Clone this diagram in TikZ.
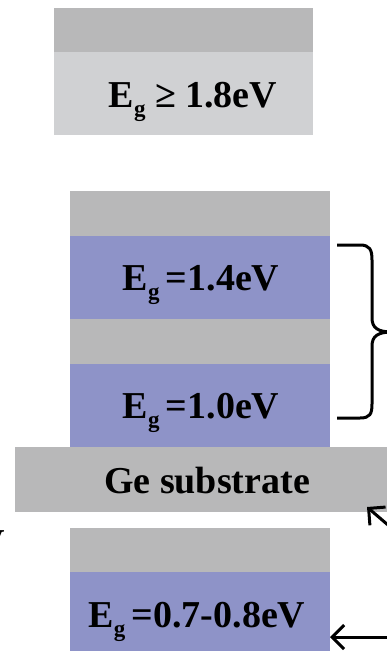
\documentclass[tikz,border=0pt]{standalone}
\usepackage{fontspec}
\setmainfont{Liberation Serif}
\usetikzlibrary{arrows.meta,calc}
\definecolor{layergray}{HTML}{B8B8B9}
\definecolor{layerlight}{HTML}{D0D1D3}
\definecolor{layerblue}{HTML}{8E93C8}
\newcommand{\Egap}{E\raisebox{-9pt}{\fontsize{23}{23}\selectfont\bfseries g}}
\begin{document}
\begin{tikzpicture}[x=1pt,y=-1pt,
  layer/.style={inner sep=0pt,outer sep=0pt,anchor=north west,minimum width=260pt},
  graylayer/.style={layer,fill=layergray,minimum height=45pt},
  lightlayer/.style={layer,fill=layerlight,minimum height=83pt},
  bluelayer/.style={layer,fill=layerblue,minimum height=83pt},
  lbl/.style={inner sep=0pt,anchor=base,font=\fontsize{38}{38}\selectfont\bfseries},
  arr/.style={line width=3pt,-{Straight Barb[length=12pt,width=24pt,line width=3pt]}},
  bracestyle/.style={line width=3pt,line join=round,line cap=butt}
]
\useasboundingbox (0,0) rectangle (387,651);
% top stack
\node[graylayer,minimum width=259pt,minimum height=44pt] (c1) at (54,8) {};
\node[lightlayer,minimum width=259pt] (c1l) at (54,52) {};
\node[lbl] (t1) at (193,107) {\Egap{} ≥ 1.8eV};
% middle stack
\node[graylayer] (c2) at (70,191) {};
\node[bluelayer] (b1) at (70,236) {};
\node[graylayer] (c3) at (70,319) {};
\node[bluelayer,minimum height=83pt] (b2) at (70,364) {};
\node[lbl] (t2) at (201,290) {\Egap\,=1.4eV};
\node[lbl] (t3) at (201,418) {\Egap\,=1.0eV};
% substrate
\node[layer,fill=layergray,minimum width=380pt,minimum height=65pt] (ge) at (15,447) {};
\node[lbl] (t4) at (207,493) {Ge substrate};
% bottom stack
\node[graylayer,minimum height=44pt] (c4) at (70,528) {};
\node[bluelayer,minimum height=85pt] (b4) at (70,572) {};
\node[lbl] (t5) at (197,627) {\Egap\,=0.7-0.8eV};
% clipped fragment at the left edge
\node[lbl,anchor=base east] (frag) at (5,555) {V};
% brace
\coordinate (br) at (392,332);
\draw[bracestyle] (337,245) -- (360,245) .. controls (370,245) and (372,250) .. (372,260)
  -- (372,318) .. controls (372,328) and (378,332) .. (br)
  .. controls (378,332) and (372,336) .. (372,346)
  -- (372,404) .. controls (372,414) and (370,418) .. (360,418) -- (337,418);
% arrows
\coordinate (s1) at (402,537);
\coordinate (s2) at (395,637);
\draw[arr] (s1) -- ($(ge.south east)+(-28,-5)$);
\draw[arr] (s2) -- (s2 -| b4.east);
\end{tikzpicture}
\end{document}
